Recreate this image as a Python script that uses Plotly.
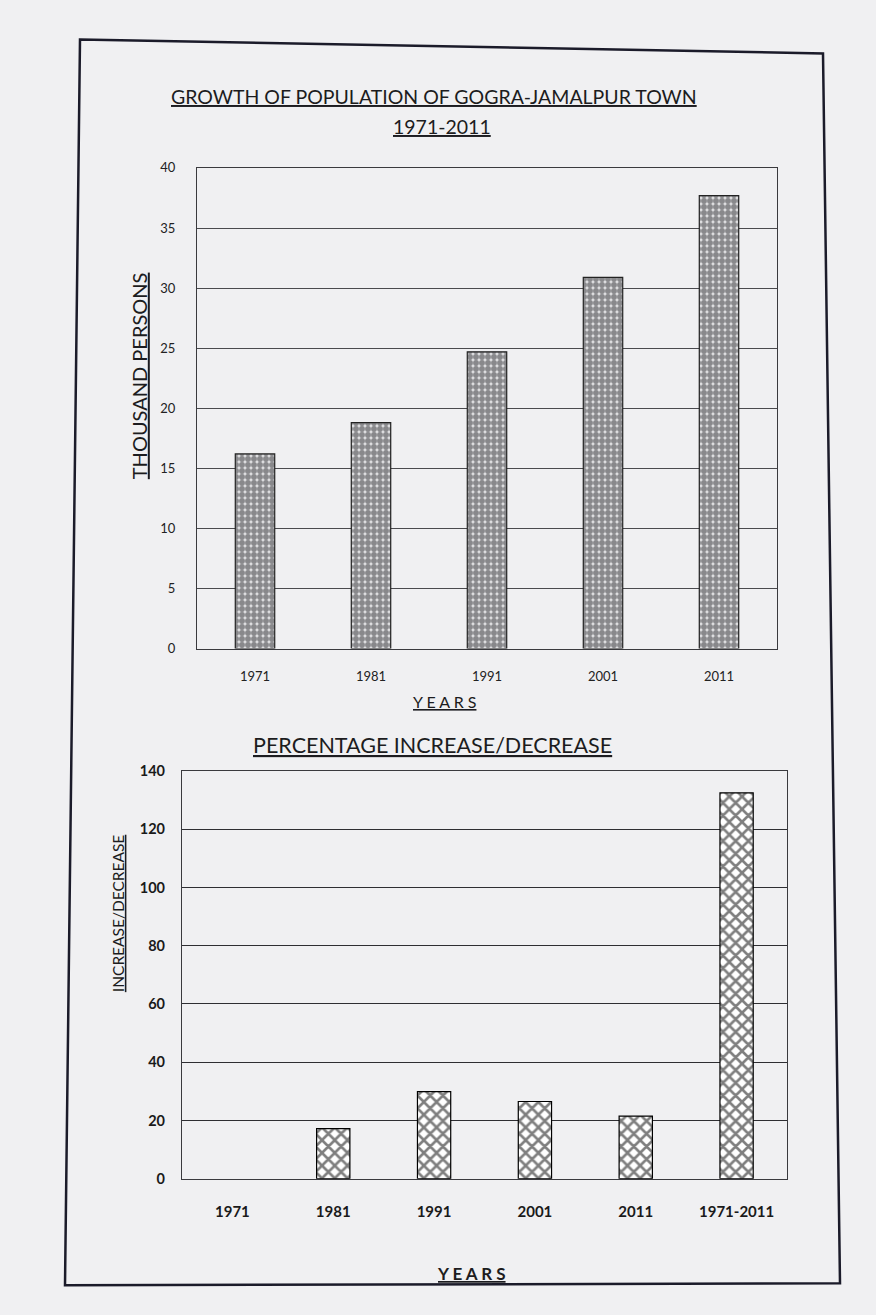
import plotly.graph_objects as go

# Population of Gogra-Jamalpur town (thousand persons)
census_years = ["1971", "1981", "1991", "2001", "2011"]
population_thousand = [16.2, 18.8, 24.7, 30.9, 37.7]

# Percentage change between census years
change_labels = ["1971", "1981", "1991", "2001", "2011", "1971-2011"]
change_percent = [None, 17.2, 29.9, 26.5, 21.5, 132.5]

W, H = 876, 1315
FONT = "Lato, 'Open Sans', sans-serif"
INK = "#1c1c20"
PAPER = "#f0f0f2"


def px(x):
    return x / W


def py(y):
    return 1 - y / H


fig = go.Figure()

fig.add_trace(go.Bar(
    x=census_years, y=population_thousand, xaxis="x", yaxis="y",
    width=0.34,
    marker=dict(
        color="#e4e4e6",
        line=dict(color="#222", width=1.2),
        pattern=dict(shape=".", fgcolor="#2b2b30", bgcolor="#e4e4e6",
                     size=6, solidity=0.75),
    ),
    showlegend=False,
))

fig.add_trace(go.Bar(
    x=change_labels, y=change_percent, xaxis="x2", yaxis="y2",
    width=0.33,
    marker=dict(
        color="white",
        line=dict(color="#000", width=1.2),
        pattern=dict(shape="x", fgcolor="#000000", bgcolor="#ffffff",
                     size=9, solidity=0.5),
    ),
    showlegend=False,
))

axis_common = dict(showline=True, mirror=True, linecolor="#3a3a3e", linewidth=1.2,
                   ticks="", zeroline=False, fixedrange=True)

fig.update_layout(
    width=W, height=H,
    margin=dict(l=0, r=0, t=0, b=0),
    paper_bgcolor=PAPER, plot_bgcolor=PAPER,
    font=dict(family=FONT, color=INK),
    bargap=0.6,
    xaxis=dict(domain=[px(197), px(777)], anchor="y", showgrid=False,
               tickfont=dict(size=13, color="#222"), ticklabelstandoff=16,
               **axis_common),
    yaxis=dict(domain=[py(648), py(161)], anchor="x", range=[0, 40],
               dtick=5, showgrid=True, gridcolor="#4a4a4e", gridwidth=1.1,
               tickfont=dict(size=13, color="#222"), ticklabelstandoff=18,
               **axis_common),
    xaxis2=dict(domain=[px(182), px(787)], anchor="y2", showgrid=False,
                tickfont=dict(size=15, color="#1a1a1a", weight="bold"),
                ticklabelstandoff=19, **axis_common),
    yaxis2=dict(domain=[py(1185), py(772)], anchor="x2", range=[0, 140],
                dtick=20, showgrid=True, gridcolor="#2e2e32", gridwidth=1.1,
                tickfont=dict(size=14.5, color="#1a1a1a", weight="bold"),
                ticklabelstandoff=13, **axis_common),
)

# Page frame around both charts
fig.add_shape(type="path", xref="paper", yref="paper",
              path=(f"M {px(80)},{py(31)} L {px(823)},{py(45)} "
                    f"L {px(840)},{py(1291)} L {px(65)},{py(1293)} Z"),
              line=dict(color="#1b1b2a", width=2.5), fillcolor="rgba(0,0,0,0)",
              layer="below")

ul = dict(lineposition="under")
texts = [
    ("GROWTH OF POPULATION OF GOGRA-JAMALPUR TOWN", 434, 89, 19.5, 0, "normal"),
    ("1971-2011", 442, 119, 19.5, 0, "normal"),
    ("THOUSAND PERSONS", 139, 372, 20, -90, "normal"),
    ("Y E A R S", 445, 702, 16, 0, "normal"),
    ("PERCENTAGE INCREASE/DECREASE", 432, 746, 21.5, 0, "normal"),
    ("INCREASE/DECREASE", 118, 917, 15.5, -90, "normal"),
    ("Y E A R S", 471, 1281, 17, 0, "bold"),
]
for text, x, y, size, angle, weight in texts:
    fig.add_annotation(
        text=text, xref="paper", yref="paper", x=px(x), y=py(y),
        xanchor="center", yanchor="middle", showarrow=False,
        textangle=angle,
        font=dict(size=size, color=INK, family=FONT, weight=weight, **ul),
    )

fig.write_html("out.html")
